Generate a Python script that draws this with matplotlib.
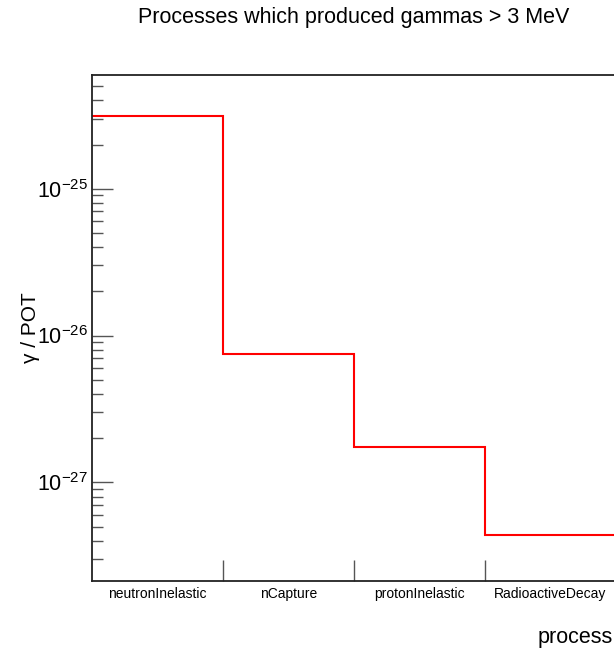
import matplotlib
matplotlib.use("Agg")
import matplotlib.pyplot as plt
from matplotlib.ticker import NullFormatter, FixedLocator, FixedFormatter
import numpy as np

categories = ["neutronInelastic", "nCapture", "protonInelastic", "RadioactiveDecay"]
values = [3.13e-25, 7.43e-27, 1.73e-27, 4.36e-28]
y_major = [1e-27, 1e-26, 1e-25]
y_major_labels = ["$10^{-27}$", "$10^{-26}$", "$10^{-25}$"]

plt.rcParams['font.family'] = ['Liberation Sans', 'DejaVu Sans']
plt.rcParams['mathtext.default'] = 'regular'

W, H = 614, 653
fig = plt.figure(figsize=(W / 100, H / 100), dpi=100)
left, right, top, bottom = 92, 616, 75, 580.7
ax = fig.add_axes([left / W, 1 - bottom / H, (right - left) / W, (bottom - top) / H])

edges = np.arange(len(categories) + 1)
ax.stairs(values, edges, baseline=None, color='#ff0000', linewidth=1.5)

ax.set_yscale('log')
ymin, ymax = 10 ** -27.670, 10 ** -24.2255
ax.set_ylim(ymin, ymax)
ax.set_xlim(edges[0], edges[-1])

minor = [m * 10.0 ** e for e in range(-28, -24) for m in range(2, 10)]
minor = [v for v in minor if ymin <= v <= ymax]
ax.yaxis.set_major_locator(FixedLocator(y_major))
ax.yaxis.set_major_formatter(FixedFormatter(y_major_labels))
ax.yaxis.set_minor_locator(FixedLocator(minor))
ax.yaxis.set_minor_formatter(NullFormatter())
ax.tick_params(axis='y', which='major', direction='in', length=15, width=1.0,
               color='#555555', labelsize=15.5, pad=3)
ax.tick_params(axis='y', which='minor', direction='in', length=8, width=1.0,
               color='#555555')

ax.xaxis.set_major_locator(FixedLocator(edges[1:-1]))
ax.xaxis.set_major_formatter(NullFormatter())
ax.tick_params(axis='x', which='major', direction='in', length=15, width=1.0,
               color='#555555')
centers = (edges[:-1] + edges[1:]) / 2
for c, lab in zip(centers, categories):
    ax.text(c, -0.012, lab, transform=ax.get_xaxis_transform(), ha='center', va='top',
            fontsize=10)

for s in ax.spines.values():
    s.set_linewidth(1.3)
    s.set_color('#222222')

fig.text(30 / W, 1 - 328 / H, 'γ / POT', rotation=90, ha='center', va='center',
         fontsize=15)
fig.text(613 / W, 1 - 637 / H, 'process', ha='right', va='center', fontsize=15.5)
fig.text(354 / W, 1 - 18 / H, 'Processes which produced gammas > 3 MeV', ha='center',
         va='center', fontsize=15.5)

fig.savefig('out.png', dpi=100)
